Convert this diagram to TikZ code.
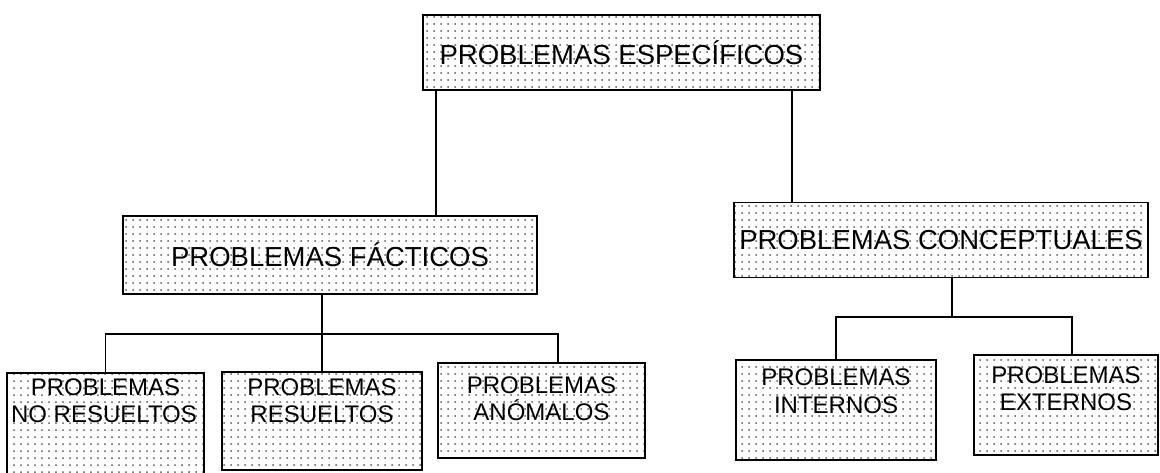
\documentclass[tikz,border=0pt]{standalone}
\usepackage{fontspec}
\setmainfont{Liberation Sans}
\usetikzlibrary{patterns}
\pgfdeclarepatternformonly{gdots}{\pgfqpoint{-1.5pt}{-1.5pt}}{\pgfqpoint{1.5pt}{1.5pt}}{\pgfqpoint{7pt}{7pt}}{\pgfpathcircle{\pgfpointorigin}{1pt}\pgfusepath{fill}}
\tikzset{
  box/.style={draw, line width=1.5pt, pattern=gdots, pattern color=black!65, inner sep=0pt},
  big/.style={font=\fontsize{27.5}{30}\selectfont},
  small/.style={font=\fontsize{24}{27}\selectfont, inner sep=0pt, anchor=base},
  conn/.style={line width=1.3pt}
}
\begin{document}
\begin{tikzpicture}[x=1pt,y=-1pt]
\clip (0,0) rectangle (1160,472);
\fill[white] (0,0) rectangle (1160,472);
% boxes
\node[box, big, minimum width=397pt, minimum height=75pt] (top) at (621.5,52.5) {PROBLEMAS ESPECÍFICOS};
\node[box, big, minimum width=414pt, minimum height=78pt] (fact) at (330,255) {PROBLEMAS FÁCTICOS};
\node[box, big, minimum width=414pt, minimum height=75pt] (conc) at (941,240) {PROBLEMAS CONCEPTUALES};
\node[box, minimum width=197pt, minimum height=112pt] (nores) at (105.5,429) {};
\node[box, minimum width=200pt, minimum height=98pt] (res) at (322,421) {};
\node[box, minimum width=207pt, minimum height=95pt] (anom) at (541.5,410.5) {};
\node[box, minimum width=200pt, minimum height=100pt] (int) at (836,410) {};
\node[box, minimum width=184pt, minimum height=100pt] (ext) at (1066,405) {};
% texts
\node[small] (nores-a) at (105.5,395) {PROBLEMAS};
\node[small] (nores-b) at (104,422) {NO RESUELTOS};
\node[small] (res-a) at (322,395) {PROBLEMAS};
\node[small] (res-b) at (322,422) {RESUELTOS};
\node[small] (anom-a) at (541.5,393) {PROBLEMAS};
\node[small] (anom-b) at (541.5,420) {ANÓMALOS};
\node[small] (int-a) at (836,385) {PROBLEMAS};
\node[small] (int-b) at (836,413) {INTERNOS};
\node[small] (ext-a) at (1066,383) {PROBLEMAS};
\node[small] (ext-b) at (1066,410) {EXTERNOS};
% helper coordinates
\coordinate (tl) at (436,0);
\coordinate (tr) at (792,0);
\coordinate (fbus) at (0,334);
\coordinate (anx) at (558,0);
\coordinate (cx) at (952,0);
\coordinate (cbus) at (0,317);
\coordinate (exx) at (1072,0);
% connectors
\draw[conn] (top.south -| tl) -- (fact.north -| tl);
\draw[conn] (top.south -| tr) -- (conc.north -| tr);
\draw[conn] (fact.south -| res.north) -- (res.north);
\draw[conn] (nores.north) -- (nores.north |- fbus) -- (anx |- fbus) -- (anx |- anom.north);
\draw[conn] (conc.south -| cx) -- (cx |- cbus);
\draw[conn] (int.north) -- (int.north |- cbus) -- (exx |- cbus) -- (exx |- ext.north);
\end{tikzpicture}
\end{document}
